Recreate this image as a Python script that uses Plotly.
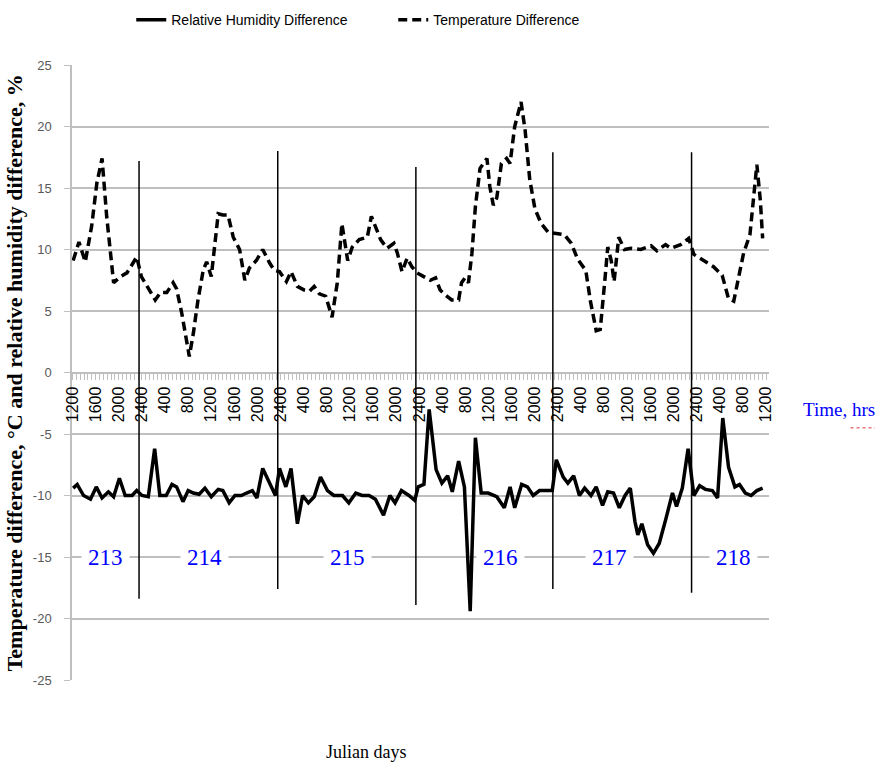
import plotly.graph_objects as go

# ---- data (hours since 1200 on Julian day 213) ----
temp_hours = [0.1, 1.1, 2.2, 3.3, 4.2, 5.1, 5.9, 6.5, 7.1, 8.3, 9.4, 10.2, 11.1, 11.9, 13.1, 14.3, 15.2, 16.3,
              17.4, 18.0, 18.9, 19.6, 20.2, 20.9, 21.7, 22.6, 23.2, 24.0, 24.6, 25.2, 26.0, 26.9, 27.8, 28.9,
              29.8, 30.6, 31.8, 32.9, 34.1, 34.9, 35.8, 37.0, 37.8, 38.9, 40.1, 41.0, 41.8, 42.7, 43.8, 44.9,
              45.8, 46.6, 47.6, 48.4, 49.6, 51.0, 51.7, 52.4, 53.3, 54.4, 55.6, 56.2, 57.0, 57.9, 58.7, 59.6,
              61.0, 61.9, 62.8, 63.6, 64.5, 65.6, 66.8, 67.3, 67.9, 68.5, 69.1, 69.7, 70.5, 71.7, 72.2, 72.8,
              73.4, 74.2, 75.1, 75.7, 76.5, 77.6, 78.3, 79.1, 80.0, 81.1, 82.3, 83.7, 85.1, 86.3, 87.4, 88.8,
              89.6, 90.6, 91.3, 92.1, 92.6, 93.2, 93.7, 94.5, 95.5, 96.6, 98.3, 100.1, 101.1, 102.6, 103.5,
              105.2, 106.6, 107.5, 109.2, 110.9, 112.4, 113.5, 114.4, 115.3, 116.1, 117.2, 117.8, 118.4,
              119.0, 119.4]
temp_diff = [9.1, 10.6, 9.0, 11.9, 15.4, 17.4, 12.7, 9.7, 7.3, 7.8, 8.1, 8.7, 9.4, 7.8, 6.8, 5.9, 6.5, 6.5,
             7.3, 6.8, 4.8, 2.9, 1.3, 3.2, 5.9, 8.3, 9.0, 7.8, 10.5, 12.9, 12.8, 12.8, 11.0, 10.0,
             7.5, 8.5, 9.1, 10.0, 8.9, 8.3, 8.2, 7.4, 8.2, 7.0, 6.7, 6.6, 7.0, 6.4, 6.2, 4.5,
             7.3, 12.1, 9.1, 10.2, 10.8, 11.0, 12.7, 11.9, 10.8, 10.1, 10.5, 9.7, 8.2, 9.3, 8.6, 8.1,
             7.7, 7.5, 7.7, 6.7, 6.3, 5.9, 5.9, 7.3, 7.7, 7.3, 9.7, 13.5, 16.6, 17.4, 15.1, 13.6,
             14.2, 17.0, 17.4, 17.0, 20.0, 22.0, 19.7, 15.7, 13.3, 12.1, 11.4, 11.3, 11.2, 10.5, 9.2, 8.3,
             5.8, 3.4, 3.5, 7.5, 10.2, 9.1, 7.4, 11.0, 10.0, 10.1, 10.0, 10.3, 9.9, 10.4, 10.1,
             10.4, 10.9, 9.6, 9.1, 8.6, 7.9, 6.0, 5.8, 7.8, 9.7, 11.2, 13.8, 16.9,
             14.0, 10.9]

rh_hours = [0.1, 0.8, 1.9, 3.1, 4.1, 5.1, 6.2, 7.1, 8.1, 9.1, 10.3, 11.1, 12.0, 13.1, 14.2, 15.1, 16.2, 17.2,
            18.0, 19.1, 20.0, 20.9, 21.9, 22.9, 24.0, 25.2, 26.0, 27.1, 28.1, 29.2, 30.1, 31.1, 31.9, 32.9,
            34.0, 35.1, 35.8, 36.9, 37.8, 38.9, 39.8, 40.8, 41.8, 42.9, 44.1, 45.2, 46.7, 47.8, 49.0, 50.1,
            51.3, 52.4, 53.8, 54.9, 55.8, 56.9, 58.2, 59.2, 59.8, 60.8, 61.7, 62.9, 63.9, 64.9, 65.7, 66.8,
            67.8, 68.8, 69.7, 70.7, 71.9, 73.4, 74.7, 75.7, 76.5, 77.7, 78.7, 79.7, 80.8, 82.3, 83.0, 83.7,
            84.9, 85.7, 86.7, 87.7, 88.6, 89.7, 90.6, 91.7, 92.6, 93.6, 94.6, 95.6, 96.5, 97.3, 97.8, 98.5,
            99.5, 100.5, 101.5, 102.6, 103.8, 104.5, 105.5, 106.5, 107.5, 108.5, 109.5, 110.7, 111.6, 112.5,
            113.5, 114.6, 115.4, 116.4, 117.4, 118.4, 119.4]
rh_diff = [-9.4, -9.1, -10.0, -10.3, -9.3, -10.2, -9.7, -10.1, -8.6, -10.0, -10.0, -9.6, -10.0, -10.1, -6.2, -10.0, -10.0, -9.1,
           -9.3, -10.5, -9.6, -9.8, -9.9, -9.4, -10.1, -9.5, -9.6, -10.6, -10.0, -10.0, -9.8, -9.6, -10.2, -7.8,
           -8.9, -10.0, -7.8, -9.3, -7.8, -12.3, -10.0, -10.6, -10.1, -8.5, -9.6, -10.0, -10.0, -10.6, -9.8, -10.0,
           -10.0, -10.3, -11.6, -10.0, -10.6, -9.6, -10.0, -10.4, -9.3, -9.1, -3.0, -7.9, -9.0, -8.4, -9.7, -7.2,
           -9.3, -19.4, -5.3, -9.8, -9.8, -10.1, -11.0, -9.3, -11.0, -9.1, -9.3, -10.0, -9.6, -9.6, -9.6, -7.1,
           -8.5, -9.0, -8.4, -10.0, -9.4, -10.0, -9.3, -10.8, -9.7, -9.8, -11.0, -10.0, -9.4, -12.1, -13.2, -12.3,
           -14.0, -14.7, -13.9, -12.0, -9.8, -10.9, -9.4, -6.2, -10.0, -9.2, -9.5, -9.6, -10.2, -3.7,
           -7.7, -9.3, -9.1, -9.8, -10.0, -9.6, -9.4]

tick_hours = list(range(0, 121, 4))
tick_labels = ["1200", "1600", "2000", "2400", "400", "800",
               "1200", "1600", "2000", "2400", "400", "800",
               "1200", "1600", "2000", "2400", "400", "800",
               "1200", "1600", "2000", "2400", "400", "800",
               "1200", "1600", "2000", "2400", "400", "800", "1200"]

y_tick_values = [-25, -20, -15, -10, -5, 0, 5, 10, 15, 20, 25]
y_tick_labels = ["-25", "-20", "-15", "-10", "-5", "0", "5", "10", "15", "20", "25"]

day_names = ["213", "214", "215", "216", "217", "218"]
day_label_hours = [5.7, 22.9, 47.5, 74.0, 92.9, 114.3]
day_label_value = -15

sep_hours = [11.5, 35.5, 59.4, 83.1, 107.1]
sep_top = [17.2, 18.0, 16.7, 17.9, 17.9]
sep_bottom = [-18.4, -17.6, -18.9, -17.6, -17.9]

GRID = "#bfbfbf"
SERIF = "Liberation Serif, Times New Roman, serif"
NARROW = "Liberation Sans Narrow, Arial Narrow, Liberation Sans, sans-serif"

fig = go.Figure()
fig.add_trace(go.Scatter(x=rh_hours, y=rh_diff, mode="lines", name="Relative Humidity Difference",
                         line=dict(color="black", width=3.5)))
fig.add_trace(go.Scatter(x=temp_hours, y=temp_diff, mode="lines", name="Temperature Difference",
                         line=dict(color="black", width=3.5, dash="9px,5px")))

for h, t, b in zip(sep_hours, sep_top, sep_bottom):
    fig.add_shape(type="line", x0=h, x1=h, y0=b, y1=t, xref="x", yref="y",
                  line=dict(color="black", width=1.5), layer="above")

for name, h in zip(day_names, day_label_hours):
    fig.add_annotation(x=h, y=day_label_value, text=name, showarrow=False,
                       font=dict(family=SERIF, size=23, color="#0000ff"),
                       bgcolor="white", borderpad=6)

fig.add_annotation(xref="paper", yref="paper", x=1.046, y=0.44, xanchor="left", yanchor="middle",
                   text="Time, hrs", showarrow=False,
                   font=dict(family=SERIF, size=19, color="#0000ff"))
fig.add_shape(type="line", xref="paper", yref="paper", x0=1.117, x1=1.152, y0=0.41, y1=0.41,
              line=dict(color="#e03030", width=1, dash="dot"))

fig.add_annotation(xref="paper", yref="paper", x=0.423, y=-0.117, xanchor="center", yanchor="middle",
                   text="Julian days", showarrow=False,
                   font=dict(family=SERIF, size=18, color="black"))

fig.add_annotation(xref="paper", yref="paper", x=-0.082, y=0.5, xanchor="center", yanchor="middle",
                   textangle=-90,
                   text="<b>Temperature difference, °C and relative humidity difference, %</b>",
                   showarrow=False, font=dict(family=SERIF, size=22, color="black"))

fig.update_layout(
    width=877, height=767,
    margin=dict(l=72, r=108, t=65, b=87, autoexpand=False),
    paper_bgcolor="white", plot_bgcolor="white",
    showlegend=True,
    legend=dict(orientation="h", x=0.085, y=1.073, xanchor="left", yanchor="middle",
                font=dict(family=NARROW, size=14, color="black"), entrywidth=217,
                bgcolor="rgba(0,0,0,0)"),
    xaxis=dict(range=[-0.1, 120.5], anchor="free", position=0.5, automargin=False,
               tickmode="array", tickvals=tick_hours, ticktext=tick_labels,
               tickangle=-90, tickfont=dict(family="Liberation Sans, Arial, sans-serif", size=16, color="black"),
               ticks="outside", ticklen=7, tickcolor=GRID, tickwidth=1,
               minor=dict(tickmode="linear", tick0=0, dtick=4/6, ticks="outside", ticklen=7,
                          tickcolor=GRID, tickwidth=1, showgrid=False),
               showline=True, linecolor=GRID, linewidth=1.5,
               showgrid=False, zeroline=False),
    yaxis=dict(range=[-25, 25], tickmode="array", tickvals=y_tick_values, ticktext=y_tick_labels,
               automargin=False, ticklabelstandoff=10,
               tickfont=dict(family=NARROW, size=13, color="#595959"),
               ticks="outside", ticklen=6, tickcolor=GRID,
               showgrid=True, gridcolor=GRID, gridwidth=1.5,
               showline=True, linecolor=GRID, linewidth=1.5,
               zeroline=False),
)

fig.write_html("out.html", config={"displayModeBar": False},
               post_script="document.body.style.margin='0';")
